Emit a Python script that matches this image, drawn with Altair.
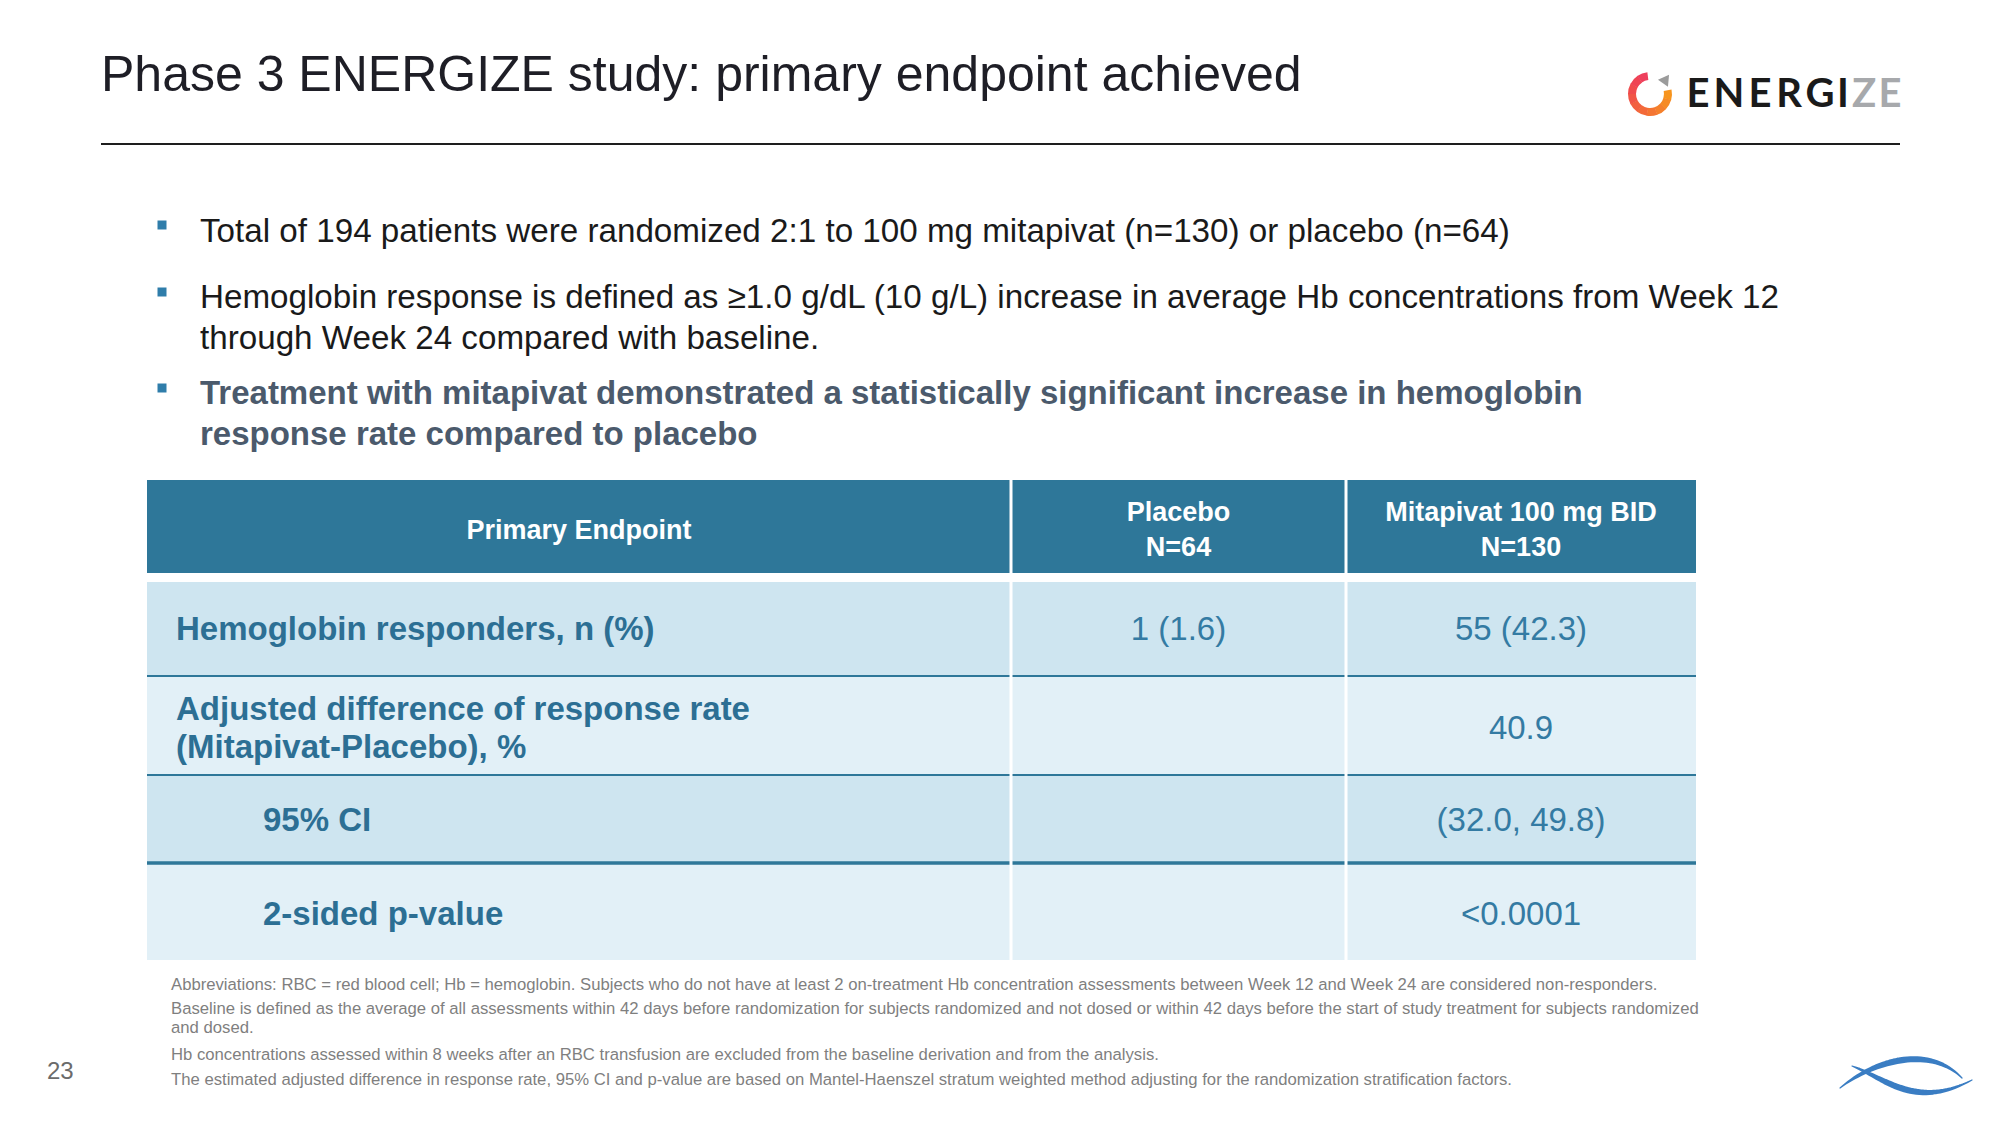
import altair as alt
import pandas as pd
import numpy as np

# ---------------- content ----------------
title = "Phase 3 ENERGIZE study: primary endpoint achieved"
logo_letters = ["E", "N", "E", "R", "G", "I", "Z", "E"]

bullet_lines = [
    "Total of 194 patients were randomized 2:1 to 100 mg mitapivat (n=130) or placebo (n=64)",
    "Hemoglobin response is defined as \u22651.0 g/dL (10 g/L) increase in average Hb concentrations from Week 12",
    "through Week 24 compared with baseline.",
]
bullet_bold_lines = [
    "Treatment with mitapivat demonstrated a statistically significant increase in hemoglobin",
    "response rate compared to placebo",
]

col_headers = ["Primary Endpoint", "Placebo", "Mitapivat 100 mg BID"]
col_n = ["N=64", "N=130"]
row_label_lines = [
    ["Hemoglobin responders, n (%)"],
    ["Adjusted difference of response rate", "(Mitapivat-Placebo), %"],
    ["95% CI"],
    ["2-sided p-value"],
]
placebo_vals = ["1 (1.6)", "", "", ""]
mitapivat_vals = ["55 (42.3)", "40.9", "(32.0, 49.8)", "<0.0001"]

footnotes = [
    "Abbreviations: RBC = red blood cell; Hb = hemoglobin.  Subjects who do not have at least 2 on-treatment Hb concentration assessments between Week 12 and Week 24 are considered non-responders.",
    "Baseline is defined as the average of all assessments within 42 days before randomization for subjects randomized and not dosed or within 42 days before the start of study treatment for subjects randomized",
    "and dosed.",
    "Hb concentrations assessed within 8 weeks after an RBC transfusion are excluded from the baseline derivation and from the analysis.",
    "The estimated adjusted difference in response rate, 95% CI and p-value are based on Mantel-Haenszel stratum weighted method adjusting for the randomization stratification factors.",
]
page_number = "23"

# ---------------- layout (page pixel coordinates) ----------------
FONT = "Liberation Sans"
M = 8
XS = alt.Scale(domain=[M, 2000 - M], nice=False, zero=False)
YS = alt.Scale(domain=[M, 1125 - M], nice=False, zero=False, reverse=True)

HEADER_BG = "#2E7799"
ROW_BG = ["#CEE5F0", "#E2F0F7", "#CEE5F0", "#E2F0F7"]
LABEL_C = "#2C6F94"
VALUE_C = "#347BA3"

col_edges = [147, 1011, 1346, 1696]
col_centers = [(col_edges[i] + col_edges[i + 1]) / 2 for i in range(3)]
header_top, header_bot = 480, 573
row_tops = [582, 676, 775, 863]
row_bots = [676, 775, 863, 960]


def X(f="x"):
    return alt.X(f + ":Q", scale=XS, axis=None)


def Y(f="y"):
    return alt.Y(f + ":Q", scale=YS, axis=None)


def tlayer(xs, ys, texts, size, color, weight="normal", align="left", font=FONT):
    df = pd.DataFrame({"x": xs, "y": ys, "text": texts})
    return alt.Chart(df).mark_text(
        align=align, baseline="alphabetic", font=font, fontSize=size,
        fontWeight=weight, color=color
    ).encode(x=X(), y=Y(), text="text:N")


layers = []

# title + rule
layers.append(tlayer([101], [91], [title], 50, "#1E1E26"))
layers.append(
    alt.Chart(pd.DataFrame({"x": [101], "x2": [1900], "y": [144]}))
    .mark_rule(color="#1E1E1E", strokeWidth=2)
    .encode(x=X(), x2="x2:Q", y=Y())
)

# logo text
logo_x = [1698, 1729, 1760, 1789, 1820, 1843, 1864, 1890]
logo_cols = ["#1A1A1A"] * 6 + ["#A7A9AC"] * 2
logo_df = pd.DataFrame({"x": logo_x, "y": [107] * 8, "text": logo_letters, "c": logo_cols})
layers.append(
    alt.Chart(logo_df).mark_text(align="center", baseline="alphabetic", font="Lato",
                                 fontSize=40, fontWeight="bold")
    .encode(x=X(), y=Y(), text="text:N", color=alt.Color("c:N", scale=None))
)

# logo ring (gradient made of arc segments)
ring_cols = ["#F7941D", "#F68A24", "#F5802B", "#F47532", "#F36A39", "#F26040",
             "#F15546", "#F04B4D", "#EF4454", "#EE3F5C"]
start, end = np.deg2rad(78), np.deg2rad(352)
edges = np.linspace(start, end, len(ring_cols) + 1)
for i, c in enumerate(ring_cols):
    layers.append(
        alt.Chart(pd.DataFrame({"a": [0]})).mark_arc(
            theta=float(edges[i]), theta2=float(edges[i + 1]) + 0.02,
            radius=22, radius2=14, x=1650 - M, y=94 - M
        ).encode(color=alt.value(c))
    )
layers.append(
    alt.Chart(pd.DataFrame({"x": [1666], "y": [79]}))
    .mark_point(shape="triangle-up", filled=True, size=150, angle=35, color="#9B9B9B", opacity=1)
    .encode(x=X(), y=Y())
)

# bullets
layers.append(
    alt.Chart(pd.DataFrame({"x": [162, 162, 162], "y": [225, 292, 388]}))
    .mark_square(size=81, color="#2F7DAA", opacity=1)
    .encode(x=X(), y=Y())
)
layers.append(tlayer([200] * 3, [242, 308, 349], bullet_lines, 33.2, "#1A1A1A"))
layers.append(tlayer([200] * 2, [404, 445], bullet_bold_lines, 33, "#4B5A6C", weight="bold"))

# table backgrounds
rect_df = pd.DataFrame({
    "x": [col_edges[0]] * 5,
    "x2": [col_edges[-1]] * 5,
    "y": [header_top] + row_tops,
    "y2": [header_bot] + row_bots,
    "c": [HEADER_BG] + ROW_BG,
})
layers.append(
    alt.Chart(rect_df).mark_rect().encode(
        x=X(), x2="x2:Q", y=Y(), y2="y2:Q", color=alt.Color("c:N", scale=None)
    )
)
# horizontal separators
hl_df = pd.DataFrame({"x": [col_edges[0]] * 3, "x2": [col_edges[-1]] * 3,
                      "y": row_bots[:3], "w": [2, 2, 3.5]})
layers.append(
    alt.Chart(hl_df).mark_rule(color=HEADER_BG).encode(
        x=X(), x2="x2:Q", y=Y(), strokeWidth=alt.StrokeWidth("w:Q", scale=None)
    )
)
# vertical white separators
vl_df = pd.DataFrame({"x": col_edges[1:3], "y": [header_top] * 2, "y2": [row_bots[-1]] * 2})
layers.append(
    alt.Chart(vl_df).mark_rule(color="white", strokeWidth=3).encode(x=X(), y=Y(), y2="y2:Q")
)

# header text
layers.append(tlayer([col_centers[0]], [539], [col_headers[0]], 27, "white", "bold", "center"))
layers.append(tlayer(col_centers[1:], [521, 521], col_headers[1:], 27, "white", "bold", "center"))
layers.append(tlayer(col_centers[1:], [556, 556], col_n, 27, "white", "bold", "center"))

# row labels
label_x = [176, 176, 263, 263]
label_base = [[640], [720, 758], [831], [925]]
lx, ly, lt = [], [], []
for i, lines in enumerate(row_label_lines):
    for j, line in enumerate(lines):
        lx.append(label_x[i])
        ly.append(label_base[i][j])
        lt.append(line)
layers.append(tlayer(lx, ly, lt, 33, LABEL_C, "bold"))

# values
value_base = [640, 739, 831, 925]
vx, vy, vt = [], [], []
for i in range(4):
    if placebo_vals[i]:
        vx.append(col_centers[1]); vy.append(value_base[i]); vt.append(placebo_vals[i])
    if mitapivat_vals[i]:
        vx.append(col_centers[2]); vy.append(value_base[i]); vt.append(mitapivat_vals[i])
layers.append(tlayer(vx, vy, vt, 33, VALUE_C, "normal", "center"))

# footnotes
layers.append(tlayer([171] * 5, [990, 1014, 1033, 1060, 1085], footnotes, 16.7, "#7F7F7F"))

# page number
layers.append(tlayer([47], [1079], [page_number], 24, "#6B6B6B"))

# bottom-right wave logo (decoration)
def bez(p, n=40):
    t = np.linspace(0, 1, n)
    p = np.array(p, dtype=float)
    pts = ((1 - t) ** 3)[:, None] * p[0] + (3 * (1 - t) ** 2 * t)[:, None] * p[1] \
        + (3 * (1 - t) * t ** 2)[:, None] * p[2] + (t ** 3)[:, None] * p[3]
    return t, pts

wave_rows = []
for k, ctrl in enumerate([
    [(1840, 1088), (1875, 1060), (1930, 1045), (1962, 1078)],
    [(1852, 1066), (1885, 1078), (1915, 1110), (1972, 1080)],
]):
    t, pts = bez(ctrl)
    for i in range(len(t)):
        wave_rows.append({"s": k, "i": i, "x": pts[i, 0], "y": pts[i, 1],
                          "w": 1.2 + 5.0 * np.sin(np.pi * t[i])})
layers.append(
    alt.Chart(pd.DataFrame(wave_rows)).mark_trail(color="#3A7DC3").encode(
        x=X(), y=Y(), detail="s:N", order="i:Q", size=alt.Size("w:Q", scale=None)
    )
)

chart = alt.layer(*layers).properties(
    width=2000 - 2 * M, height=1125 - 2 * M, padding=0,
    autosize=alt.AutoSizeParams(type="none"), background="white"
).configure_view(stroke=None)

chart.save("out.html", embed_options={"renderer": "svg", "actions": False})
